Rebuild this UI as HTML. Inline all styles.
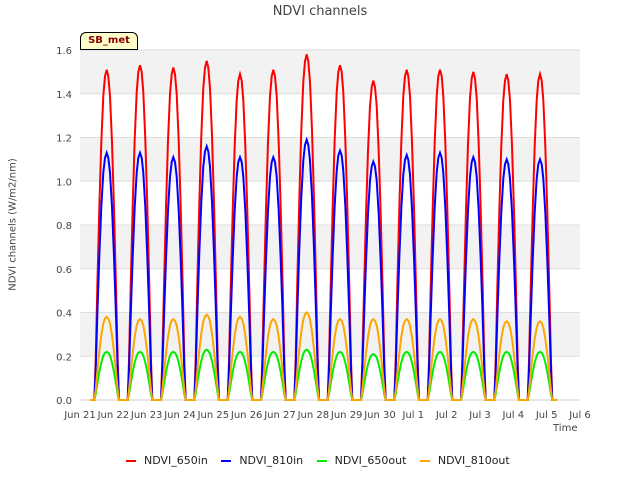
<!DOCTYPE html>
<html><head><meta charset="utf-8"><style>
body{margin:0;background:#fff;font-family:"Liberation Sans",sans-serif}
text{font-family:"DejaVu Sans","Liberation Sans",sans-serif}
</style></head><body>
<svg id="c" width="640" height="480"></svg>
<script>
const days=["Jun 21","Jun 22","Jun 23","Jun 24","Jun 25","Jun 26","Jun 27","Jun 28","Jun 29","Jun 30","Jul 1","Jul 2","Jul 3","Jul 4","Jul 5","Jul 6"];
const yTicks=[0,0.2,0.4,0.6,0.8,1.0,1.2,1.4,1.6];
const peak650in=[1.51,1.53,1.52,1.55,1.49,1.51,1.58,1.53,1.46,1.51,1.51,1.50,1.49,1.49];
const peak810in=[1.13,1.13,1.11,1.16,1.11,1.11,1.19,1.14,1.09,1.12,1.13,1.11,1.10,1.10];
const peak650out=[0.22,0.22,0.22,0.23,0.22,0.22,0.23,0.22,0.21,0.22,0.22,0.22,0.22,0.22];
const peak810out=[0.38,0.37,0.37,0.39,0.38,0.37,0.40,0.37,0.37,0.37,0.37,0.37,0.36,0.36];
const profOffsets=[-0.5,-0.37,-0.33,-0.28,-0.22,-0.16,-0.1,-0.05,0,0.05,0.1,0.16,0.22,0.28,0.33,0.37,0.5];
const profFrac=[0,0,0.12,0.34,0.58,0.78,0.92,0.98,1,0.98,0.92,0.78,0.58,0.34,0.12,0,0];
const peakPhase=0.8;
const X0=80,X1=580,Y0=400,Y1=50;
const x=d=>X0+(d/15)*(X1-X0);
const y=v=>Y0-(v/1.6)*(Y0-Y1);
const svg=document.getElementById('c');const NS='http://www.w3.org/2000/svg';
function mk(t,a,p){const e=document.createElementNS(NS,t);for(const k in a)e.setAttribute(k,a[k]);(p||svg).appendChild(e);return e;}
for(let i=0;i<8;i++){const b=mk('rect',{x:X0,y:y(yTicks[i+1]),width:X1-X0,height:y(yTicks[i])-y(yTicks[i+1]),fill:i%2?'#f2f2f2':'#fff'});

}
yTicks.forEach(v=>{const l=mk('line',{x1:X0,x2:X1,y1:y(v),y2:y(v),stroke:'#ddd'});


const t=mk('text',{x:X0-8,y:y(v)+4,'text-anchor':'end','font-size':10,fill:'#444'});t.textContent=v.toFixed(1);

});
days.forEach((d,i)=>{const t=mk('text',{x:x(i),y:Y0+18,'text-anchor':'middle','font-size':10,fill:'#444'});t.textContent=d;

});
const ax=mk('line',{x1:X0,x2:X1,y1:Y0,y2:Y0,stroke:'#ccc'});


const series=[[peak650in,'#ff0000','NDVI_650in'],[peak810in,'#0000ff','NDVI_810in'],[peak650out,'#00ee00','NDVI_650out'],[peak810out,'#ffa500','NDVI_810out']];
series.forEach(([pk,col,name])=>{let pts=[];pk.forEach((p,i)=>{profOffsets.forEach((o,j)=>{pts.push(x(i+peakPhase+o).toFixed(1)+','+y(p*profFrac[j]).toFixed(1));});});
const pl=mk('polyline',{points:pts.join(' '),fill:'none',stroke:col,'stroke-width':2});

});
</script>
<div style="position:absolute;left:0;top:0;width:640px;height:480px;pointer-events:none">
<div style="position:absolute;top:4px;width:640px;text-align:center;font:13px 'DejaVu Sans',sans-serif;color:#444">NDVI channels</div>
<div style="position:absolute;left:-72px;top:219px;width:170px;text-align:center;transform:rotate(-90deg);font:10px 'DejaVu Sans',sans-serif;color:#444">NDVI channels (W/m2/nm)</div>
<div style="position:absolute;left:553px;top:423px;font:10px 'DejaVu Sans',sans-serif;color:#444">Time</div>
<div style="position:absolute;left:80px;top:32px;width:56px;height:16px;background:#ffffcc;border:1px solid #000;border-radius:6px 6px 0 0;font:bold 10px 'DejaVu Sans',sans-serif;color:#8b0000;text-align:center;line-height:16px">SB_met</div>
<div style="position:absolute;top:454px;left:126px;font:11px 'DejaVu Sans',sans-serif;color:#222;white-space:nowrap">
<span><span style="display:inline-block;width:10px;height:2px;background:#f00;vertical-align:middle;margin-right:8px"></span>NDVI_650in</span>
<span style="margin-left:10px"><span style="display:inline-block;width:10px;height:2px;background:#00f;vertical-align:middle;margin-right:8px"></span>NDVI_810in</span>
<span style="margin-left:10px"><span style="display:inline-block;width:10px;height:2px;background:#0e0;vertical-align:middle;margin-right:8px"></span>NDVI_650out</span>
<span style="margin-left:10px"><span style="display:inline-block;width:10px;height:2px;background:#ffa500;vertical-align:middle;margin-right:8px"></span>NDVI_810out</span>
</div></div>
</body></html>
